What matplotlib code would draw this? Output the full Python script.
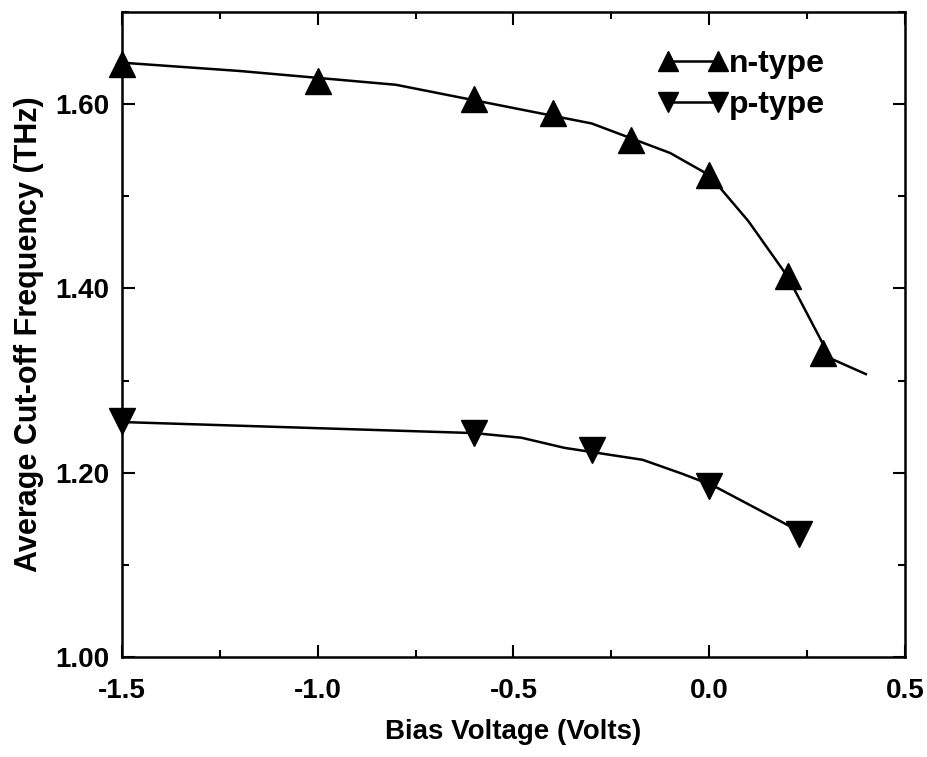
import matplotlib
matplotlib.use("Agg")
import matplotlib.pyplot as plt
from matplotlib.ticker import MultipleLocator, FormatStrFormatter

plt.rcParams["font.family"] = ["Liberation Sans", "DejaVu Sans"]
plt.rcParams["font.weight"] = "bold"

# measured points (markers)
n_bias = [-1.5, -1.0, -0.6, -0.4, -0.2, 0.0, 0.2, 0.29]
n_freq = [1.644, 1.625, 1.606, 1.590, 1.561, 1.523, 1.413, 1.330]
p_bias = [-1.5, -0.6, -0.3, 0.0, 0.23]
p_freq = [1.256, 1.243, 1.225, 1.186, 1.134]

# fitted curves (lines)
n_fit_bias = [-1.5, -1.2, -0.8, -0.3, -0.1, 0.0, 0.1, 0.2, 0.31, 0.40]
n_fit_freq = [1.645, 1.636, 1.621, 1.579, 1.547, 1.523, 1.473, 1.413, 1.324, 1.307]
p_fit_bias = [-1.5, -0.6, -0.48, -0.37, -0.17, -0.07, 0.01, 0.21]
p_fit_freq = [1.255, 1.243, 1.238, 1.227, 1.214, 1.199, 1.186, 1.141]

fig = plt.figure(figsize=(9.27, 7.57), dpi=100)
ax = fig.add_axes([122 / 927, 100 / 757, 783 / 927, 645 / 757])

ax.plot(n_fit_bias, n_fit_freq, color="black", linewidth=1.8, zorder=2)
ax.plot(p_fit_bias, p_fit_freq, color="black", linewidth=1.8, zorder=2)
ax.plot(n_bias, n_freq, linestyle="none", marker="^", markersize=19,
        color="black", zorder=3, clip_on=False)
ax.plot(p_bias, p_freq, linestyle="none", marker="v", markersize=19,
        color="black", zorder=3, clip_on=False)

# legend handles
ax.plot([], [], color="black", linewidth=1.8, marker="^", markersize=15,
        label="n-type")
ax.plot([], [], color="black", linewidth=1.8, marker="v", markersize=15,
        label="p-type")
ax.legend(loc="upper left", bbox_to_anchor=(0.657, 0.977), frameon=False,
          numpoints=2, handlelength=2.15, handletextpad=0.05,
          labelspacing=0.35, borderpad=0.2,
          prop={"weight": "bold", "size": 23})

ax.set_xlim(-1.5, 0.5)
ax.set_ylim(1.0, 1.70)
ax.xaxis.set_major_locator(MultipleLocator(0.5))
ax.xaxis.set_minor_locator(MultipleLocator(0.25))
ax.yaxis.set_major_locator(MultipleLocator(0.2))
ax.yaxis.set_minor_locator(MultipleLocator(0.1))
ax.xaxis.set_major_formatter(FormatStrFormatter("%.1f"))
ax.yaxis.set_major_formatter(FormatStrFormatter("%.2f"))

ax.tick_params(which="both", direction="in", top=True, right=True,
               width=1.5, labelsize=20)
ax.tick_params(axis="x", pad=15)
ax.tick_params(axis="y", pad=9)
ax.tick_params(which="major", length=9)
ax.tick_params(which="minor", length=5)
for spine in ax.spines.values():
    spine.set_linewidth(1.8)
for lbl in ax.get_xticklabels() + ax.get_yticklabels():
    lbl.set_fontweight("bold")

ax.set_xlabel("Bias Voltage (Volts)", fontsize=20, fontweight="bold",
              labelpad=11)
ax.set_ylabel("Average Cut-off Frequency (THz)", fontsize=22,
              fontweight="bold", labelpad=8)

fig.savefig("out.png", dpi=100)
